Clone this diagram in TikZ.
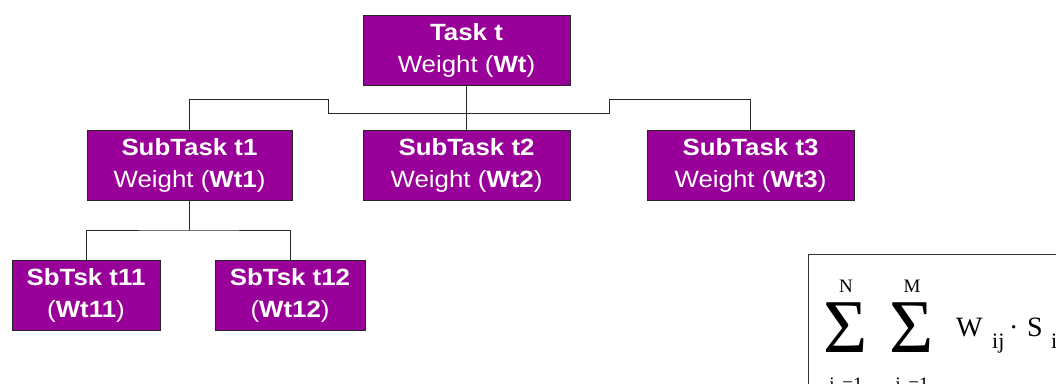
\documentclass[tikz,border=0pt]{standalone}
\usepackage{fontspec}
\setmainfont[FakeStretch=1.1]{Liberation Sans}
\newfontfamily\formulafont{Liberation Serif}
\definecolor{taskpurple}{RGB}{153,0,153}
\definecolor{linegray}{RGB}{40,40,40}
\begin{document}
\begin{tikzpicture}[x=1pt,y=-1pt,
  taskbox/.style={draw=black!85, line width=0.9pt, fill=taskpurple, text=white,
    minimum width=207pt, minimum height=70pt, inner sep=0pt, align=center,
    font=\fontsize{23.5}{32}\selectfont},
  smallbox/.style={taskbox, minimum width=149pt},
  link/.style={draw=linegray, line width=0.9pt},
  ftxt/.style={inner sep=0pt, font=\formulafont\fontsize{#1}{#1}\selectfont},
  ftxt/.default=27,
  bigsum/.style={ftxt=76, text height=50pt, text depth=0pt, anchor=base}]
\useasboundingbox (0,0) rectangle (1056,383);
\clip (0,0) rectangle (1056,383);

% task hierarchy
\node[taskbox] (task) at (466.5,50) {\textbf{Task t}\\Weight (\textbf{Wt})};
\node[taskbox, minimum width=205pt] (st1) at (189.5,165.5) {\textbf{SubTask t1}\\Weight (\textbf{Wt1})};
\node[taskbox] (st2) at (466.5,165.5) {\textbf{SubTask t2}\\Weight (\textbf{Wt2})};
\node[taskbox] (st3) at (750.5,165.5) {\textbf{SubTask t3}\\Weight (\textbf{Wt3})};
\node[smallbox, minimum width=148pt] (s11) at (86,295) {\textbf{SbTsk t11}\\(\textbf{Wt11})};
\node[smallbox, minimum width=150pt] (s12) at (290,295) {\textbf{SbTsk t12}\\(\textbf{Wt12})};

% connectors
\path[link] (task) -- (st2);
\path[link] (st1.north) |- (328,99) |- (609,113) -- (609,99) -| (st3.north);
\coordinate (fork) at (189.5,230);
\path[link] (st1.south) -- (fork);
\path[link] (s11.north) |- (fork) -| (s12.north);

% weighted-sum formula
\draw[draw=black!80, line width=0.9pt] (808,254) rectangle (1070,400);
\node[ftxt=19, anchor=base] (n) at (846,292) {N};
\node[bigsum] (sig1) at (846,352) {Σ};
\node[ftxt=19, anchor=base] (lo1) at (846,390) {i\, =1};
\node[ftxt=19, anchor=base] (m) at (912,292) {M};
\node[bigsum] (sig2) at (912,352) {Σ};
\node[ftxt=19, anchor=base] (lo2) at (912,390) {j\, =1};
\node[ftxt=28, anchor=base west] (w) at (956,336) {W};
\node[ftxt=22, anchor=base west] (wij) at (992,348) {ij};
\node[ftxt=28, anchor=base west] (dot) at (1009,336) {·};
\node[ftxt=28, anchor=base west] (s) at (1027,336) {S};
\node[ftxt=22, anchor=base west] (sij) at (1051,348) {ij};
\end{tikzpicture}
\end{document}
